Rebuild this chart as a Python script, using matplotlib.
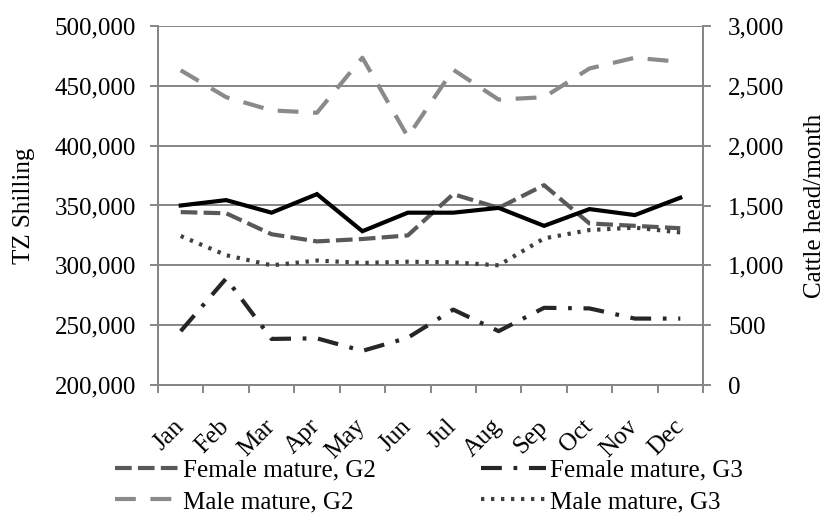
"""
Monthly prices of mature cattle (TZ Shilling) and cattle head/month.
"""

import matplotlib
matplotlib.use('Agg')
import matplotlib.pyplot as plt
import matplotlib.transforms as mtransforms
from matplotlib.ticker import FuncFormatter

plt.rcParams['font.family'] = ['Liberation Serif', 'DejaVu Serif']

# Data.
MONTHS = ['Jan', 'Feb', 'Mar', 'Apr', 'May', 'Jun',
          'Jul', 'Aug', 'Sep', 'Oct', 'Nov', 'Dec']
FEMALE_G2 = [344500, 343500, 326000, 320000, 322000, 325000,
             359500, 348000, 367000, 335000, 333000, 331000]
FEMALE_G3 = [245000, 289000, 238500, 239000, 228500, 239500,
             263000, 245000, 264500, 264000, 255500, 255500]
MALE_G2 = [463000, 440500, 429500, 427500, 473500, 407500,
           463500, 438500, 440500, 464500, 473500, 470000]
MALE_G3 = [324500, 308500, 300000, 304000, 302000, 303000,
           302500, 300000, 322500, 329500, 331500, 327500]
CATTLE_HEAD = [1500, 1545, 1440, 1595, 1285, 1440,
               1440, 1480, 1330, 1470, 1420, 1565]

GRID = '#868686'
FONT = 18


def comma(v, pos=None):
    return f'{int(round(v)):,}'


def main():
    fig = plt.figure(figsize=(8.31, 5.16), dpi=100)
    ax = fig.add_axes([158 / 831, 1 - 385 / 516, 545 / 831, 359 / 516])
    ax2 = ax.twinx()

    x = range(len(MONTHS))
    lw = 3
    l_fg2, = ax.plot(x, FEMALE_G2, color='#595959', lw=lw,
                     dashes=(4, 1.5), label='Female mature, G2')
    l_fg3, = ax.plot(x, FEMALE_G3, color='#262626', lw=lw,
                     dashes=(5, 2.8, 0.9, 2.8), label='Female mature, G3')
    l_mg2, = ax.plot(x, MALE_G2, color='#8a8a8a', lw=lw,
                     dashes=(5, 3.5), label='Male mature, G2')
    l_mg3, = ax.plot(x, MALE_G3, color='#404040', lw=lw,
                     dashes=(0.8, 1.6), label='Male mature, G3')
    ax2.plot(x, CATTLE_HEAD, color='black', lw=lw, solid_joinstyle='miter')

    # Left axis.
    ax.set_ylim(200000, 500000)
    ax.set_yticks(range(200000, 500001, 50000))
    ax.yaxis.set_major_formatter(FuncFormatter(comma))
    ax.set_ylabel('TZ Shilling', fontsize=FONT, labelpad=14)
    ax.yaxis.grid(True, color=GRID, lw=1.4)
    ax.set_axisbelow(True)

    # Right axis.
    ax2.set_ylim(0, 3000)
    ax2.set_yticks(range(0, 3001, 500))
    ax2.yaxis.set_major_formatter(FuncFormatter(comma))
    ax2.set_ylabel('Cattle head/month', fontsize=FONT, labelpad=14)

    # Category axis: tick marks on boundaries, labels in the middle.
    ax.set_xlim(-0.5, len(MONTHS) - 0.5)
    ax.set_xticks([i - 0.5 for i in range(len(MONTHS) + 1)])
    ax.set_xticklabels([])
    ax.set_xticks(list(x), minor=True)
    ax.set_xticklabels(MONTHS, minor=True, rotation=45, ha='right',
                       va='center', rotation_mode='anchor')
    shift = mtransforms.ScaledTranslation(15 / 72, 0, fig.dpi_scale_trans)
    for lab in ax.get_xticklabels(minor=True):
        lab.set_transform(lab.get_transform() + shift)

    for a in (ax, ax2):
        for side in ('left', 'right', 'bottom'):
            a.spines[side].set_color(GRID)
            a.spines[side].set_linewidth(1.4)
        a.spines['top'].set_visible(False)
        a.tick_params(axis='both', which='major', color=GRID, width=1.4,
                      length=6, labelsize=FONT)
    ax.tick_params(axis='y', pad=10)
    ax2.tick_params(axis='y', pad=12)
    ax.tick_params(axis='x', which='minor', length=0, labelsize=FONT, pad=27.5)

    fig.legend(handles=[l_fg2, l_mg2, l_fg3, l_mg3], ncol=2,
               loc='center', bbox_to_anchor=(0.516, 0.058),
               frameon=False, fontsize=FONT, handlelength=2.6,
               handletextpad=0.15, columnspacing=4.2, labelspacing=0.36,
               borderpad=0.2)

    fig.savefig('out.png', dpi=100)


if __name__ == "__main__":
    main()
